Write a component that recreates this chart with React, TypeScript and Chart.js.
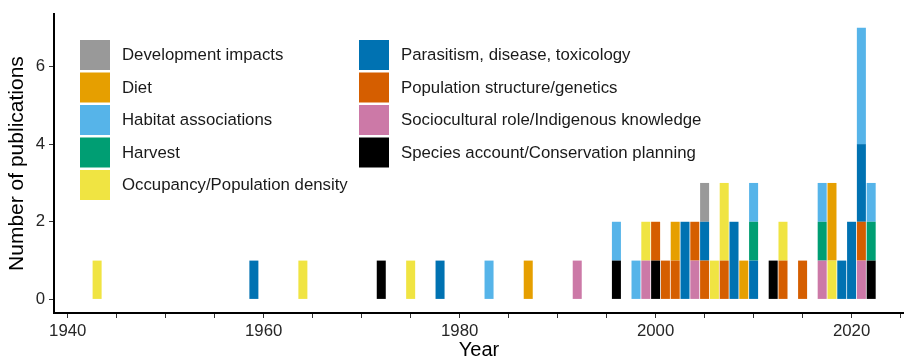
import React, { useEffect, useRef } from 'react';
import { Chart, registerables } from 'chart.js';
Chart.register(...registerables);

const years = [1943, 1959, 1964, 1972, 1975, 1978, 1983, 1987, 1992, 1996, 1998, 1999, 2000, 2001, 2002, 2003, 2004, 2005, 2006, 2007, 2008, 2009, 2010, 2012, 2013, 2015, 2017, 2018, 2019, 2020, 2021, 2022];

const speciesAccount = [0,0,0,1,0, 0,0,0,0,1, 0,0,1,0,0, 0,0,0,0,0, 0,0,0,1,0, 0,0,0,0,0, 0,1];
const sociocultural = [0,0,0,0,0, 0,0,0,1,0, 0,1,0,0,0, 0,1,0,0,0, 0,0,0,0,0, 0,1,0,0,0, 1,0];
const popStructure = [0,0,0,0,0, 0,0,0,0,0, 0,0,1,1,1, 0,1,1,0,1, 0,0,0,0,1, 1,0,0,0,0, 1,0];
const parasitism = [0,1,0,0,0, 1,0,0,0,0, 0,0,0,0,0, 2,0,1,0,0, 2,0,1,0,0, 0,0,0,1,2, 2,0];
const occupancy = [1,0,1,0,1, 0,0,0,0,0, 0,1,0,0,0, 0,0,0,1,2, 0,0,0,0,1, 0,0,1,0,0, 0,0];
const harvest = [0,0,0,0,0, 0,0,0,0,0, 0,0,0,0,0, 0,0,0,0,0, 0,0,1,0,0, 0,1,0,0,0, 0,1];
const habitat = [0,0,0,0,0, 0,1,0,0,1, 1,0,0,0,0, 0,0,0,0,0, 0,0,1,0,0, 0,1,0,0,0, 3,1];
const diet = [0,0,0,0,0, 0,0,1,0,0, 0,0,0,0,1, 0,0,0,0,0, 0,1,0,0,0, 0,0,2,0,0, 0,0];
const development = [0,0,0,0,0, 0,0,0,0,0, 0,0,0,0,0, 0,0,1,0,0, 0,0,0,0,0, 0,0,0,0,0, 0,0];

// stacking order: first is bottom
const seriesNames = [
  'Species account/Conservation planning',
  'Sociocultural role/Indigenous knowledge',
  'Population structure/genetics',
  'Parasitism, disease, toxicology',
  'Occupancy/Population density',
  'Harvest',
  'Habitat associations',
  'Diet',
  'Development impacts',
];
const seriesValues = [speciesAccount, sociocultural, popStructure, parasitism, occupancy, harvest, habitat, diet, development];
const seriesColors = ['#000000', '#CC79A7', '#D55E00', '#0072B2', '#F0E442', '#009E73', '#56B4E9', '#E69F00', '#999999'];

const legendColumns = [
  ['Development impacts', 'Diet', 'Habitat associations', 'Harvest', 'Occupancy/Population density'],
  ['Parasitism, disease, toxicology', 'Population structure/genetics', 'Sociocultural role/Indigenous knowledge', 'Species account/Conservation planning'],
];

const xTickYears = [1940, 1945, 1950, 1955, 1960, 1965, 1970, 1975, 1980, 1985, 1990, 1995, 2000, 2005, 2010, 2015, 2020, 2025];
const xLabelYears = [1940, 1960, 1980, 2000, 2020];
const yTicks = [0, 2, 4, 6];

const FONT = '"Liberation Sans", Arial, Helvetica, sans-serif';

const legendPlugin = {
  id: 'boxLegend',
  afterDraw(chart: any) {
    const ctx = chart.ctx;
    ctx.save();
    ctx.font = `16.8px ${FONT}`;
    ctx.textBaseline = 'middle';
    ctx.textAlign = 'left';
    const colX = [80, 359];
    const top = 40;
    const step = 32.5;
    const size = 30;
    legendColumns.forEach((col, ci) => {
      col.forEach((name, ri) => {
        const idx = chart.data.datasets.findIndex((d: any) => d.label === name);
        const color = chart.data.datasets[idx].backgroundColor;
        const y = top + ri * step;
        ctx.fillStyle = color;
        ctx.fillRect(colX[ci], y, size, size);
        ctx.fillStyle = '#1a1a1a';
        ctx.fillText(name, colX[ci] + 42, y + size / 2 + 0.5);
      });
    });
    ctx.restore();
  },
};

export default function App() {
  const ref = useRef<HTMLCanvasElement>(null);
  useEffect(() => {
    if (!ref.current) return;
    const chart = new Chart(ref.current, {
      type: 'bar',
      data: {
        datasets: seriesNames.map((name, i) => ({
          label: name,
          data: years.map((y, j) => ({ x: y, y: seriesValues[i][j] })),
          backgroundColor: seriesColors[i],
          borderWidth: 0,
          categoryPercentage: 1,
          barPercentage: 0.92,
        })),
      },
      options: {
        responsive: false,
        animation: false,
        devicePixelRatio: 1,
        layout: { padding: { top: 13, right: 0, left: 0, bottom: 0 } },
        plugins: { legend: { display: false }, tooltip: { enabled: false } },
        scales: {
          x: {
            type: 'linear',
            stacked: true,
            offset: false,
            min: 1938.6,
            max: 2025.35,
            afterBuildTicks: (scale: any) => {
              scale.ticks = xTickYears.map((v) => ({ value: v }));
            },
            afterFit: (scale: any) => {
              scale.height = 47;
            },
            grid: { offset: false, drawOnChartArea: false, drawTicks: true, tickLength: 5, color: '#333333', lineWidth: 1 },
            border: { display: true, color: '#000000', width: 2 },
            ticks: {
              autoSkip: false,
              maxRotation: 0,
              padding: 3,
              color: '#262626',
              font: { family: FONT, size: 16.8 },
              callback: (v: any) => (xLabelYears.includes(Number(v)) ? String(v) : ''),
            },
            title: {
              display: true,
              text: 'Year',
              color: '#000000',
              font: { family: FONT, size: 20, lineHeight: 1 },
              padding: { top: 0, bottom: 0 },
            },
          },
          y: {
            type: 'linear',
            stacked: true,
            min: -0.35,
            max: 7.35,
            afterBuildTicks: (scale: any) => {
              scale.ticks = yTicks.map((v) => ({ value: v }));
            },
            afterFit: (scale: any) => {
              scale.width = 54;
            },
            grid: { drawOnChartArea: false, drawTicks: true, tickLength: 5, color: '#333333', lineWidth: 1 },
            border: { display: true, color: '#000000', width: 2 },
            ticks: {
              padding: 4,
              color: '#262626',
              font: { family: FONT, size: 16.8 },
              callback: (v: any) => String(v),
            },
            title: {
              display: true,
              text: 'Number of publications',
              color: '#000000',
              font: { family: FONT, size: 21, lineHeight: 1 },
              padding: { top: 7, bottom: 0 },
            },
          },
        },
      },
      plugins: [legendPlugin],
    } as any);
    return () => chart.destroy();
  }, []);
  return (
    <div style={{ position: 'fixed', left: 0, top: 0, width: 904, height: 360, background: '#fff' }}>
      <canvas ref={ref} width={904} height={360} style={{ display: 'block' }} />
    </div>
  );
}
